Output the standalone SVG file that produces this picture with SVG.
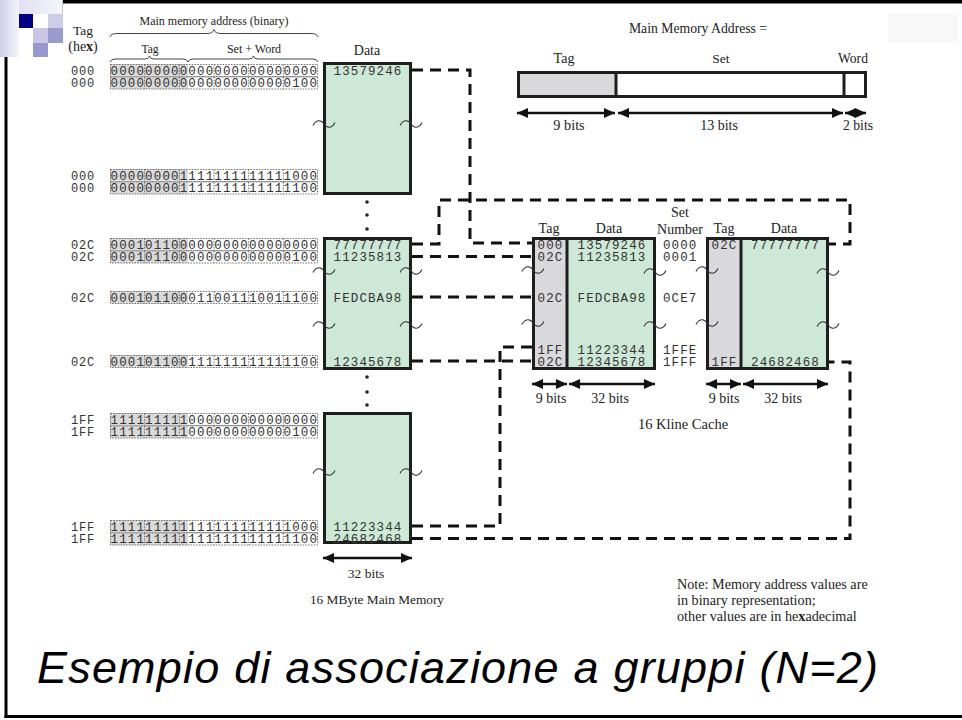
<svg xmlns="http://www.w3.org/2000/svg" xmlns:xlink="http://www.w3.org/1999/xlink" width="962" height="720" viewBox="0 0 962 720">
<defs>
<style>
.serif{font-family:"Liberation Serif","Times New Roman",serif;fill:#222;}
.mono{font-family:"Liberation Mono","Courier New",monospace;fill:#333;}
.bin{font-size:12.5px;letter-spacing:1.15px;}
.hex{font-size:12px;letter-spacing:0.8px;}
.val{font-size:12.5px;letter-spacing:1.1px;}
.cell{fill:none;stroke:#555;stroke-width:0.8;stroke-dasharray:1.6 1.2;}
.box{stroke:#1e1e1e;stroke-width:3;}
.green{fill:#cde8d6;}
.gray{fill:#d9d9dc;}
.div{stroke:#1e1e1e;stroke-width:3;}
.dash{fill:none;stroke:#111;stroke-width:3;stroke-dasharray:11 7;}
.arr{stroke:#111;stroke-width:2.5;marker-start:url(#ah);marker-end:url(#ah);}
.tl{fill:none;stroke:#333;stroke-width:1.1;}
.brace{fill:none;stroke:#444;stroke-width:1;}
.dot{fill:#222;}
</style>
<marker id="ah" markerUnits="userSpaceOnUse" markerWidth="11" markerHeight="10" refX="11" refY="5" orient="auto-start-reverse" viewBox="0 0 11 10"><path d="M0,0 L11,5 L0,10 Z" fill="#111"/></marker>
<linearGradient id="gh" x1="0" y1="0" x2="1" y2="0"><stop offset="0" stop-color="#d6d6ee"/><stop offset="1" stop-color="#f6f6fb"/></linearGradient>
<linearGradient id="gv" x1="0" y1="0" x2="1" y2="0"><stop offset="0" stop-color="#cfcfea"/><stop offset="1" stop-color="#f4f4fa"/></linearGradient>
<path id="tl" class="tl" d="M-11,1.5 C-8,-4.5 -3,-4.5 0,0 C3,4.5 8,4.5 11,-1.5"/>
<g id="rowframe">
<rect x="110" y="0" width="78" height="12.5" fill="#d9d9d9"/>
<rect x="110.5" y="0.5" width="207" height="12" class="cell"/>
<path class="cell" d="M144.7,0.5V12.5M179.3,0.5V12.5M214,0.5V12.5M248.7,0.5V12.5M283.3,0.5V12.5"/>
</g>
</defs>

<rect x="0" y="0" width="962" height="720" fill="#fff"/>
<g id="frame">
<rect x="0" y="0" width="962" height="3.5" fill="#000"/>
<rect x="4.5" y="0" width="3" height="718" fill="#000"/>
<rect x="4.5" y="715" width="957.5" height="3" fill="#000"/>
</g>
<g id="logo">
<rect x="0" y="0" width="62" height="14" fill="url(#gh)"/>
<rect x="0" y="0" width="19" height="57" fill="url(#gv)"/>
<line x1="62.5" y1="0" x2="62.5" y2="14" stroke="#c4c4e2" stroke-width="1"/>
<rect x="19" y="14" width="14" height="14" fill="#000080"/>
<rect x="48" y="14" width="15" height="14" fill="#cdcde8"/>
<rect x="33" y="28" width="15" height="15" fill="#c8c8e6"/>
<rect x="48" y="28" width="15" height="15" fill="#9a9acc"/>
<rect x="33" y="43" width="15" height="14" fill="#9898cc"/>
</g>
<rect x="888" y="13" width="70" height="30" fill="#f8f8f8"/>

<g id="connectors">
<path class="dash" d="M412,70 H470 V243 H532"/>
<path class="dash" d="M412,244 H439 V200 H850 V244 H829"/>
<path class="dash" d="M412,256.5 H532"/>
<path class="dash" d="M412,297 H532"/>
<path class="dash" d="M412,361 H532"/>
<path class="dash" d="M412,526 H500 V347 H532"/>
<path class="dash" d="M412,538.5 H850 V362 H829"/>
</g>

<g id="address-header">
<text class="serif" x="83" y="35" font-size="13.5" text-anchor="middle">Tag</text>
<text class="serif" x="83" y="51" font-size="14" text-anchor="middle">(he<tspan font-weight="bold">x</tspan>)</text>
<text class="serif" x="214" y="25" font-size="12" text-anchor="middle">Main memory address (binary)</text>
<path class="brace" d="M110,37 Q111,33.5 117,33.5 H207 Q213,33.5 214,29.5 Q215,33.5 221,33.5 H311 Q317,33.5 318,37"/>
<text class="serif" x="150" y="53" font-size="11.5" text-anchor="middle">Tag</text>
<text class="serif" x="254" y="53" font-size="12" text-anchor="middle">Set + Word</text>
<path class="brace" d="M110,62 Q111,59 115,59 H145 Q149,59 149.5,56 Q150,59 154,59 H183 Q187,59 188,62"/>
<path class="brace" d="M188,62 Q189,59 193,59 H249 Q253,59 253.5,56 Q254,59 258,59 H313 Q317,59 318,62"/>
<text class="serif" x="367" y="55" font-size="14" text-anchor="middle">Data</text>
</g>

<g id="address-rows">
<use xlink:href="#rowframe" href="#rowframe" y="64"/>
<use xlink:href="#rowframe" href="#rowframe" y="76.5"/>
<use xlink:href="#rowframe" href="#rowframe" y="169"/>
<use xlink:href="#rowframe" href="#rowframe" y="181.5"/>
<use xlink:href="#rowframe" href="#rowframe" y="238"/>
<use xlink:href="#rowframe" href="#rowframe" y="250.5"/>
<use xlink:href="#rowframe" href="#rowframe" y="291"/>
<use xlink:href="#rowframe" href="#rowframe" y="355"/>
<use xlink:href="#rowframe" href="#rowframe" y="413"/>
<use xlink:href="#rowframe" href="#rowframe" y="425.5"/>
<use xlink:href="#rowframe" href="#rowframe" y="520"/>
<use xlink:href="#rowframe" href="#rowframe" y="532.5"/>
<g class="mono hex">
<text x="71" y="74.5">000</text>
<text x="71" y="87">000</text>
<text x="71" y="179.5">000</text>
<text x="71" y="192">000</text>
<text x="71" y="248.5">02C</text>
<text x="71" y="261">02C</text>
<text x="71" y="301.5">02C</text>
<text x="71" y="365.5">02C</text>
<text x="71" y="423.5">1FF</text>
<text x="71" y="436">1FF</text>
<text x="71" y="530.5">1FF</text>
<text x="71" y="543">1FF</text>
</g>
<g class="mono bin">
<text x="110.5" y="74.5">000000000000000000000000</text>
<text x="110.5" y="87">000000000000000000000100</text>
<text x="110.5" y="179.5">000000001111111111111000</text>
<text x="110.5" y="192">000000001111111111111100</text>
<text x="110.5" y="248.5">000101100000000000000000</text>
<text x="110.5" y="261">000101100000000000000100</text>
<text x="110.5" y="301.5">000101100011001110011100</text>
<text x="110.5" y="365.5">000101100111111111111100</text>
<text x="110.5" y="423.5">111111111000000000000000</text>
<text x="110.5" y="436">111111111000000000000100</text>
<text x="110.5" y="530.5">111111111111111111111000</text>
<text x="110.5" y="543">111111111111111111111100</text>
</g>
</g>

<g id="memory-block-1">
<rect class="box green" x="324.5" y="63.5" width="86" height="130"/>
<text class="mono val" x="368" y="74.5" text-anchor="middle">13579246</text>
<use xlink:href="#tl" href="#tl" x="324" y="124"/>
<use xlink:href="#tl" href="#tl" x="411" y="124"/>
</g>
<g id="memory-dots-1">
<circle class="dot" cx="367" cy="202" r="1.8"/>
<circle class="dot" cx="367" cy="215" r="1.8"/>
<circle class="dot" cx="367" cy="229" r="1.8"/>
</g>
<g id="memory-block-2">
<rect class="box green" x="324.5" y="238.5" width="86" height="130"/>
<text class="mono val" x="368" y="248.5" text-anchor="middle">77777777</text>
<text class="mono val" x="368" y="261" text-anchor="middle">11235813</text>
<text class="mono val" x="368" y="301.5" text-anchor="middle">FEDCBA98</text>
<text class="mono val" x="368" y="365.5" text-anchor="middle">12345678</text>
<use xlink:href="#tl" href="#tl" x="324" y="271"/>
<use xlink:href="#tl" href="#tl" x="411" y="271"/>
<use xlink:href="#tl" href="#tl" x="324" y="325"/>
<use xlink:href="#tl" href="#tl" x="411" y="325"/>
</g>
<g id="memory-dots-2">
<circle class="dot" cx="367" cy="377" r="1.8"/>
<circle class="dot" cx="367" cy="392" r="1.8"/>
<circle class="dot" cx="367" cy="405" r="1.8"/>
</g>
<g id="memory-block-3">
<rect class="box green" x="324.5" y="413.5" width="86" height="129"/>
<text class="mono val" x="368" y="530.5" text-anchor="middle">11223344</text>
<text class="mono val" x="368" y="543" text-anchor="middle">24682468</text>
<use xlink:href="#tl" href="#tl" x="324" y="472"/>
<use xlink:href="#tl" href="#tl" x="411" y="472"/>
</g>
<g id="memory-caption">
<line class="arr" x1="323" y1="558" x2="412" y2="558"/>
<text class="serif" x="366" y="578" font-size="13.5" text-anchor="middle">32 bits</text>
<text class="serif" x="377" y="604" font-size="13.3" text-anchor="middle">16 MByte Main Memory</text>
</g>

<g id="cache-way-0">
<text class="serif" x="549" y="233" font-size="14" text-anchor="middle">Tag</text>
<text class="serif" x="609" y="233" font-size="14" text-anchor="middle">Data</text>
<rect class="gray" x="533.5" y="238.5" width="33.5" height="130"/>
<rect class="green" x="567" y="238.5" width="87.5" height="130"/>
<rect class="box" fill="none" x="533.5" y="238.5" width="121" height="130"/>
<line class="div" x1="567" y1="238" x2="567" y2="369"/>
<g class="mono val" text-anchor="middle">
<text x="550.5" y="248.5">000</text>
<text x="612" y="248.5">13579246</text>
<text x="550.5" y="261">02C</text>
<text x="612" y="261">11235813</text>
<text x="550.5" y="301.5">02C</text>
<text x="612" y="301.5">FEDCBA98</text>
<text x="550.5" y="353.5">1FF</text>
<text x="612" y="353.5">11223344</text>
<text x="550.5" y="366">02C</text>
<text x="612" y="366">12345678</text>
</g>
<use xlink:href="#tl" href="#tl" x="533" y="270"/>
<use xlink:href="#tl" href="#tl" x="533" y="323"/>
<use xlink:href="#tl" href="#tl" x="655" y="272"/>
<use xlink:href="#tl" href="#tl" x="655" y="325"/>
<line class="arr" x1="532" y1="384" x2="567" y2="384"/>
<line class="arr" x1="569" y1="384" x2="655" y2="384"/>
<text class="serif" x="551" y="403" font-size="14" text-anchor="middle">9 bits</text>
<text class="serif" x="610" y="403" font-size="14" text-anchor="middle">32 bits</text>
</g>

<g id="set-number">
<text class="serif" x="680" y="217" font-size="14" text-anchor="middle">Set</text>
<text class="serif" x="680" y="234" font-size="14" text-anchor="middle">Number</text>
<g class="mono val">
<text x="663" y="248.5">0000</text>
<text x="663" y="261">0001</text>
<text x="663" y="301.5">0CE7</text>
<text x="663" y="353.5">1FFE</text>
<text x="663" y="366">1FFF</text>
</g>
</g>

<g id="cache-way-1">
<text class="serif" x="724" y="233" font-size="14" text-anchor="middle">Tag</text>
<text class="serif" x="784" y="233" font-size="14" text-anchor="middle">Data</text>
<rect class="gray" x="707.5" y="238.5" width="33.5" height="130"/>
<rect class="green" x="741" y="238.5" width="86.5" height="130"/>
<rect class="box" fill="none" x="707.5" y="238.5" width="120" height="130"/>
<line class="div" x1="741" y1="238" x2="741" y2="369"/>
<g class="mono val" text-anchor="middle">
<text x="724.5" y="248.5">02C</text>
<text x="785.5" y="248.5">77777777</text>
<text x="724.5" y="366">1FF</text>
<text x="785.5" y="366">24682468</text>
</g>
<use xlink:href="#tl" href="#tl" x="707" y="270"/>
<use xlink:href="#tl" href="#tl" x="707" y="323"/>
<use xlink:href="#tl" href="#tl" x="828" y="272"/>
<use xlink:href="#tl" href="#tl" x="828" y="325"/>
<line class="arr" x1="706" y1="384" x2="741" y2="384"/>
<line class="arr" x1="743" y1="384" x2="828" y2="384"/>
<text class="serif" x="724" y="403" font-size="14" text-anchor="middle">9 bits</text>
<text class="serif" x="783" y="403" font-size="14" text-anchor="middle">32 bits</text>
</g>
<text class="serif" x="683" y="429" font-size="14.5" text-anchor="middle">16 Kline Cache</text>

<g id="address-format">
<text class="serif" x="698" y="33" font-size="13.7" text-anchor="middle">Main Memory Address =</text>
<text class="serif" x="564" y="63" font-size="14" text-anchor="middle">Tag</text>
<text class="serif" x="721" y="63" font-size="13.5" text-anchor="middle">Set</text>
<text class="serif" x="853" y="63" font-size="13.6" text-anchor="middle">Word</text>
<rect class="gray" x="518.5" y="72.5" width="97.5" height="24"/>
<rect class="box" fill="none" x="518.5" y="72.5" width="347" height="24"/>
<line class="div" x1="616" y1="72" x2="616" y2="97"/>
<line class="div" x1="844" y1="72" x2="844" y2="97"/>
<line class="arr" x1="517" y1="113" x2="615" y2="113"/>
<line class="arr" x1="618" y1="113" x2="843" y2="113"/>
<line class="arr" x1="845" y1="113" x2="866" y2="113"/>
<text class="serif" x="569" y="130" font-size="14.3" text-anchor="middle">9 bits</text>
<text class="serif" x="719" y="130" font-size="14" text-anchor="middle">13 bits</text>
<text class="serif" x="858" y="130" font-size="13.7" text-anchor="middle">2 bits</text>
</g>

<g id="note" class="serif" font-size="14.2" fill="#333">
<text x="677" y="589">Note: Memory address values are</text>
<text x="677" y="605">in binary representation;</text>
<text x="677" y="621">other values are in he<tspan font-weight="bold">x</tspan>adecimal</text>
</g>

<text x="37" y="683" font-family="'Liberation Sans', Arial, sans-serif" font-style="italic" font-size="45" fill="#000" textLength="841" lengthAdjust="spacing">Esempio di associazione a gruppi (N=2)</text>
</svg>
